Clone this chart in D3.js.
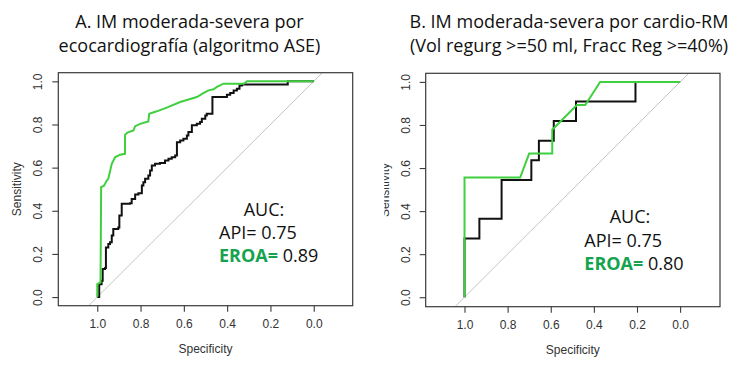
<!DOCTYPE html>
<html>
<head>
<meta charset="utf-8">
<script src="https://cdn.jsdelivr.net/npm/d3@7"></script>
<style>
  html, body { margin: 0; padding: 0; background: #fff; }
  svg { display: block; }
</style>
</head>
<body>
<svg id="chart" width="750" height="365"></svg>
<script>
// ---------- DATA (specificity, sensitivity) ----------
const tickValues = [1.0, 0.8, 0.6, 0.4, 0.2, 0.0];

const titlesA = ["A. IM moderada-severa por", "ecocardiografía (algoritmo ASE)"];
const titlesB = ["B. IM moderada-severa por cardio-RM", "(Vol regurg >=50 ml, Fracc Reg >=40%)"];

const aucA = { api: "0.75", eroa: "0.89" };
const aucB = { api: "0.75", eroa: "0.80" };

// Panel A – API (black), step curve
const apiA = [
  [1.0,0.0],[0.991,0.0],[0.991,0.06],[0.98,0.076],[0.975,0.076],[0.975,0.13],[0.964,0.135],
  [0.96,0.135],[0.96,0.23],[0.949,0.246],[0.941,0.254],[0.933,0.285],[0.926,0.316],[0.903,0.323],
  [0.898,0.323],[0.898,0.378],[0.887,0.432],[0.849,0.435],[0.841,0.455],[0.825,0.475],[0.81,0.481],
  [0.794,0.517],[0.787,0.532],[0.779,0.548],[0.764,0.563],[0.756,0.587],[0.748,0.61],[0.733,0.618],
  [0.71,0.622],[0.687,0.633],[0.671,0.641],[0.656,0.648],[0.64,0.656],[0.632,0.656],[0.632,0.718],
  [0.617,0.726],[0.602,0.734],[0.586,0.749],[0.579,0.765],[0.563,0.765],[0.563,0.796],[0.54,0.803],
  [0.525,0.811],[0.517,0.827],[0.501,0.842],[0.494,0.85],[0.468,0.85],[0.468,0.927],[0.409,0.927],
  [0.401,0.938],[0.386,0.946],[0.37,0.958],[0.355,0.966],[0.343,0.981],[0.331,0.985],[0.12,0.985],
  [0.12,1.0],[0.0,1.0]
];

// Panel A – EROA (green)
const eroaA = [
  [1.0,0.0],[1.0,0.06],[0.985,0.068],[0.982,0.51],[0.97,0.515],[0.964,0.525],[0.956,0.54],
  [0.949,0.548],[0.933,0.618],[0.918,0.648],[0.895,0.66],[0.872,0.664],[0.872,0.752],[0.861,0.762],
  [0.833,0.772],[0.825,0.792],[0.802,0.803],[0.764,0.814],[0.76,0.85],[0.725,0.861],[0.679,0.878],
  [0.617,0.904],[0.54,0.927],[0.51,0.945],[0.486,0.958],[0.463,0.963],[0.447,0.974],[0.417,0.989],
  [0.324,0.989],[0.308,1.0],[0.0,1.0]
];

// Panel B – API (black), step curve
const apiB = [
  [1.0,0.0],[1.0,0.273],[0.931,0.273],[0.931,0.364],[0.828,0.364],[0.828,0.545],[0.69,0.545],
  [0.69,0.636],[0.655,0.636],[0.655,0.727],[0.586,0.727],[0.586,0.818],[0.483,0.818],[0.483,0.909],
  [0.207,0.909],[0.207,1.0],[0.0,1.0]
];

// Panel B – EROA (green)
const eroaB = [
  [1.0,0.0],[1.0,0.556],[0.742,0.556],[0.70,0.667],[0.593,0.667],[0.593,0.778],[0.479,0.893],
  [0.44,0.893],[0.371,1.0],[0.0,1.0]
];

// ---------- DRAWING ----------
const svg = d3.select("#chart");
const GREEN_LINE = "#3fcf3f";
const GREEN_TEXT = "#16a34f";
const TITLE_FONT = "'Open Sans', 'Noto Sans', sans-serif";
const R_FONT = "'Liberation Sans', Arial, sans-serif";

const panels = [
  { id: "A", box: [58.3, 72.7, 352.7, 305.7], xd: [1.18, -0.18], yd: [-0.04, 1.04],
    titles: titlesA, tx: 189.5, ty: [28, 52], api: apiA, eroa: eroaA, auc: aucA,
    aucX: 219, aucCx: 264, aucY: [216, 239, 262], ylabClip: null },
  { id: "B", box: [425.7, 73.3, 720, 306.7], xd: [1.18, -0.185], yd: [-0.044, 1.04],
    titles: titlesB, tx: 569, ty: [28, 52], api: apiB, eroa: eroaB, auc: aucB,
    aucX: 584.3, aucCx: 630, aucY: [223, 246.5, 270], ylabClip: 384.3 }
];

panels.forEach(p => {
  const [x0, y0, x1, y1] = p.box;
  const x = d3.scaleLinear().domain(p.xd).range([x0, x1]);
  const y = d3.scaleLinear().domain(p.yd).range([y1, y0]);
  const g = svg.append("g");

  // clip for plot region
  const clipId = "clip" + p.id;
  svg.append("clipPath").attr("id", clipId)
    .append("rect").attr("x", x0).attr("y", y0).attr("width", x1 - x0).attr("height", y1 - y0);

  // titles
  p.titles.forEach((t, i) => {
    g.append("text").attr("x", p.tx).attr("y", p.ty[i])
      .attr("text-anchor", "middle")
      .style("font-family", TITLE_FONT).style("font-size", "18px").style("fill", "#111")
      .text(t);
  });

  // diagonal reference
  const plot = g.append("g").attr("clip-path", `url(#${clipId})`);
  const diag = [[1 - p.yd[0], p.yd[0]], [1 - p.yd[1], p.yd[1]]];
  plot.append("path")
    .attr("d", d3.line().x(d => x(d[0])).y(d => y(d[1]))(diag))
    .attr("fill", "none").attr("stroke", "#c4c4c4").attr("stroke-width", 1);

  // curves
  plot.append("path")
    .attr("d", d3.line().x(d => x(d[0])).y(d => y(d[1])).curve(d3.curveStepAfter)(p.api))
    .attr("fill", "none").attr("stroke", "#111").attr("stroke-width", 2).attr("stroke-linejoin", "miter");
  plot.append("path")
    .attr("d", d3.line().x(d => x(d[0])).y(d => y(d[1]))(p.eroa))
    .attr("fill", "none").attr("stroke", GREEN_LINE).attr("stroke-width", 2);

  // box
  g.append("rect").attr("x", x0).attr("y", y0).attr("width", x1 - x0).attr("height", y1 - y0)
    .attr("fill", "none").attr("stroke", "#3a3a3a").attr("stroke-width", 1.2);

  // x axis
  const xa = g.append("g").attr("transform", `translate(0,${y1})`)
    .call(d3.axisBottom(x).tickValues(tickValues).tickSize(6).tickFormat(d3.format(".1f")));
  xa.select(".domain").remove();
  xa.selectAll(".tick line").attr("stroke", "#3a3a3a").attr("stroke-width", 1.1);
  xa.selectAll(".tick text").attr("y", 14)
    .style("font-family", R_FONT).style("font-size", "12px").style("fill", "#333");

  // y axis
  const ya = g.append("g").attr("transform", `translate(${x0},0)`)
    .call(d3.axisLeft(y).tickValues(tickValues).tickSize(6).tickFormat(d3.format(".1f")));
  ya.select(".domain").remove();
  ya.selectAll(".tick line").attr("stroke", "#3a3a3a").attr("stroke-width", 1.1);
  ya.selectAll(".tick text")
    .attr("x", 0).attr("dy", null)
    .attr("text-anchor", "middle")
    .attr("transform", "translate(-16,0) rotate(-90)")
    .style("font-family", R_FONT).style("font-size", "12px").style("fill", "#333");

  // axis titles
  g.append("text").attr("x", (x0 + x1) / 2).attr("y", y1 + 47)
    .attr("text-anchor", "middle")
    .style("font-family", R_FONT).style("font-size", "12px").style("fill", "#333")
    .text("Specificity");

  let ylab = g.append("text")
    .attr("transform", `translate(${x0 - 37},${(y0 + y1) / 2}) rotate(-90)`)
    .attr("text-anchor", "middle")
    .style("font-family", R_FONT).style("font-size", "12px").style("fill", "#333")
    .text("Sensitivity");
  if (p.ylabClip) {
    const cid = "ylabclip" + p.id;
    svg.append("clipPath").attr("id", cid)
      .append("rect").attr("x", p.ylabClip).attr("y", 0).attr("width", 60).attr("height", 365);
    ylab.remove();
    g.append("g").attr("clip-path", `url(#${cid})`)
      .append("text")
      .attr("transform", `translate(${x0 - 37},${(y0 + y1) / 2}) rotate(-90)`)
      .attr("text-anchor", "middle")
      .style("font-family", R_FONT).style("font-size", "12px").style("fill", "#333")
      .text("Sensitivity");
  }

  // AUC annotation
  const af = s => s.style("font-family", TITLE_FONT).style("font-size", "18px");
  g.append("text").attr("x", p.aucCx).attr("y", p.aucY[0]).attr("text-anchor", "middle")
    .call(af).style("fill", "#111").text("AUC:");
  g.append("text").attr("x", p.aucX).attr("y", p.aucY[1])
    .call(af).style("fill", "#111").text("API= " + p.auc.api);
  const t3 = g.append("text").attr("x", p.aucX).attr("y", p.aucY[2]).call(af);
  t3.append("tspan").style("fill", GREEN_TEXT).style("font-weight", "bold").text("EROA=");
  t3.append("tspan").style("fill", "#111").text(" " + p.auc.eroa);
});
</script>
</body>
</html>
